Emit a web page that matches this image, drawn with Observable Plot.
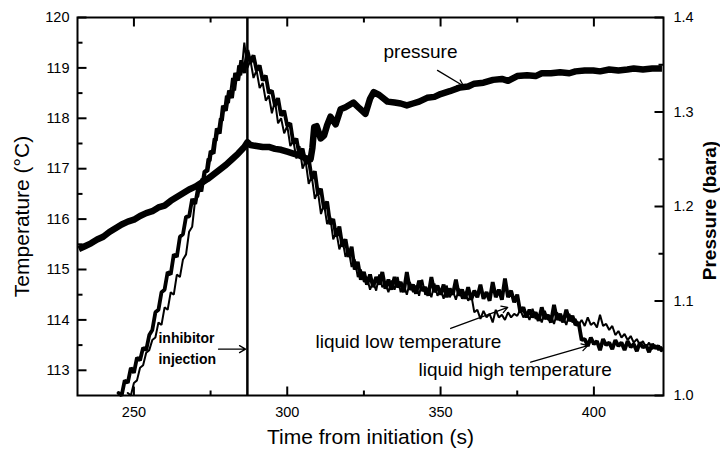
<!DOCTYPE html>
<html>
<head>
<meta charset="utf-8">
<script src="https://cdn.jsdelivr.net/npm/d3@7"></script>
<script src="https://cdn.jsdelivr.net/npm/@observablehq/plot@0.6"></script>
<style>
  html, body { margin: 0; padding: 0; background: #fff; }
  #chart { width: 720px; height: 453px; }
</style>
</head>
<body>
<div id="chart"></div>
<script>
// ---------- data ----------
const timeDomain = [231.6, 422.7];
const tempDomain = [112.5, 120];
const pressDomain = [1.0, 1.4];

const xTickLabels = [250, 300, 350, 400];
const xMinorTicks = [275, 325, 375];
const tempTickLabels = [113, 114, 115, 116, 117, 118, 119, 120];
const tempMinorTicks = [113.5, 114.5, 115.5, 116.5, 117.5, 118.5, 119.5];
const pressTickLabels = [1.0, 1.1, 1.2, 1.3, 1.4];
const pressMinorTicks = [1.05, 1.15, 1.25, 1.35];

const injectionTime = 287;

// temperature samples (s)
const tempTime = [245,246,247,248,249,250,251,252,253,254,255,256,257,258,259,260,261,262,263,264,265,266,267,268,269,270,271,272,273,274,275,276,277,278,279,280,281,282,283,284,285,286,287,288,289,290,291,292,293,294,295,296,297,298,299,300,301,302,303,304,305,306,307,308,309,310,311,312,313,314,315,316,317,318,319,320,321,322,323,324,325,326,327,328,329,330,331,332,333,334,335,336,337,338,339,340,341,342,343,344,345,346,347,348,349,350,351,352,353,354,355,356,357,358,359,360,361,362,363,364,365,366,367,368,369,370,371,372,373,374,375,376,377,378,379,380,381,382,383,384,385,386,387,388,389,390,391,392,393,394,395,396,397,398,399,400,401,402,403,404,405,406,407,408,409,410,411,412,413,414,415,416,417,418,419,420,421,422];

// liquid high temperature (°C)
const highTemp = [112.55,112.50,112.80,112.75,113.05,112.95,113.25,113.20,113.45,113.40,113.70,113.80,114.15,114.20,114.55,114.60,114.95,114.90,115.30,115.25,115.65,115.70,116.05,116.05,116.40,116.30,116.65,116.55,116.95,116.95,117.35,117.30,117.80,117.70,118.25,118.15,118.55,118.40,118.90,118.75,119.15,118.90,119.35,119.10,119.25,118.95,119.05,118.75,118.85,118.50,118.55,118.25,118.40,118.05,118.15,117.85,117.90,117.50,117.60,117.25,117.40,117.10,117.20,116.80,116.95,116.50,116.60,116.20,116.35,115.90,116.00,115.65,115.85,115.45,115.60,115.25,115.45,115.00,115.15,114.80,114.95,114.70,114.90,114.65,114.85,114.70,114.95,114.62,114.80,114.60,114.85,114.65,114.75,114.55,114.95,114.60,114.70,114.52,114.78,114.58,114.65,114.48,114.85,114.55,114.68,114.50,114.70,114.45,114.62,114.50,114.80,114.48,114.60,114.42,114.65,114.40,114.58,114.45,114.70,114.42,114.55,114.38,114.75,114.45,114.60,114.40,114.82,114.45,114.58,114.35,114.50,114.15,114.25,114.05,114.20,114.05,114.15,113.98,114.25,114.02,114.10,113.95,114.30,114.00,114.12,113.95,114.20,113.98,114.08,113.90,113.95,113.60,113.62,113.48,113.65,113.52,113.58,113.40,113.62,113.50,113.55,113.42,113.60,113.48,113.55,113.40,113.58,113.46,113.52,113.38,113.55,113.45,113.50,113.36,113.52,113.44,113.48,113.40];

// liquid low temperature (°C)
const lowTemp = [null,null,null,112.55,112.50,112.75,112.80,113.05,113.10,113.35,113.40,113.60,113.65,113.95,113.90,114.25,114.20,114.55,114.50,114.90,114.85,115.20,115.30,115.75,115.85,116.40,116.45,116.80,116.75,117.20,117.15,117.60,117.55,118.00,117.95,118.45,118.30,118.80,118.55,119.05,118.85,119.50,119.00,119.15,118.80,118.95,118.60,118.70,118.35,118.45,118.10,118.35,117.90,118.00,117.70,117.85,117.45,117.55,117.20,117.45,117.00,117.15,116.70,116.85,116.40,116.55,116.10,116.30,115.90,116.05,115.60,115.75,115.40,115.60,115.25,115.40,115.05,115.20,114.85,115.00,114.75,114.85,114.60,114.75,114.58,114.90,114.65,114.72,114.55,114.78,114.60,114.85,114.55,114.70,114.50,114.75,114.55,114.68,114.48,114.80,114.50,114.62,114.45,114.72,114.48,114.60,114.42,114.68,114.45,114.58,114.40,114.62,114.42,114.55,114.38,114.50,114.15,114.20,114.02,114.18,114.05,114.12,113.95,114.20,114.05,114.10,114.00,114.15,114.05,114.12,114.08,114.20,114.05,114.15,114.00,114.22,114.02,114.10,113.95,114.18,114.00,114.08,113.92,114.15,113.98,114.05,113.90,114.12,113.95,114.02,113.90,114.00,113.88,114.05,113.90,113.95,113.85,114.10,113.88,113.92,113.80,113.88,113.70,113.78,113.65,113.72,113.60,113.68,113.55,113.62,113.50,113.58,113.45,113.55,113.42,113.50,113.40,113.46];

// pressure samples
const pressTime = [232,234,236,238,240,242,244,246,248,250,252,254,256,258,260,262,264,266,268,270,272,274,276,278,280,282,284,286,287,288,290,292,294,296,298,300,302,304,306,307.6,308.2,308.8,309.6,310.9,312,313,314.1,315.8,317.4,319,321.6,323.5,325.5,327,328.2,330,332.7,335,337,339,341,343,345.6,348,350,353,356.4,359,361,364,367.1,370,372,375,378.2,381,383,386,389,392,394,397,399.8,402,405,408,410.9,413,416,419,422.2];
const pressValue = [1.155,1.158,1.161,1.165,1.168,1.173,1.177,1.181,1.184,1.186,1.190,1.193,1.195,1.199,1.201,1.206,1.210,1.214,1.218,1.221,1.225,1.229,1.234,1.239,1.244,1.250,1.256,1.263,1.268,1.265,1.264,1.263,1.263,1.261,1.260,1.258,1.256,1.254,1.251,1.250,1.262,1.284,1.285,1.272,1.275,1.286,1.295,1.287,1.303,1.305,1.310,1.304,1.298,1.314,1.321,1.318,1.311,1.310,1.309,1.307,1.309,1.311,1.315,1.316,1.319,1.322,1.326,1.327,1.330,1.331,1.334,1.335,1.333,1.338,1.339,1.338,1.341,1.341,1.342,1.341,1.343,1.344,1.344,1.343,1.345,1.344,1.345,1.346,1.345,1.346,1.346];

// annotations (data coordinates: time, temperature)
const labelTexts = ["pressure", "liquid low temperature", "liquid high temperature"];
const labelTime = [331.4, 309.2, 342.8];
const labelTemp = [119.31, 113.57, 113.015];
const arrowFromTime = [349.0, 353.3, 379.4];
const arrowFromTemp = [118.95, 113.83, 113.16];
const arrowToTime = [357.5, 371.9, 398.0];
const arrowToTemp = [118.64, 114.25, 113.49];
const injectionLines = ["inhibitor", "injection"];
const injectionLabelTime = [258.0, 258.0];
const injectionLabelTemp = [113.64, 113.22];
const injectionArrow = {fromTime: 277.6, toTime: 286.4, temp: 113.42};

// ---------- chart ----------
const W = 720, H = 453, mL = 77, mR = 57, mT = 17, mB = 58;
const frameW = W - mL - mR, frameH = H - mT - mB;
const majorLen = 9, minorLen = 5;
// convert tick lengths (px) into data units of each scale
const tPerPx = (timeDomain[1] - timeDomain[0]) / frameW;
const vPerPx = (tempDomain[1] - tempDomain[0]) / frameH;

const toT = p => tempDomain[0] + (p - pressDomain[0]) * (tempDomain[1] - tempDomain[0]) / (pressDomain[1] - pressDomain[0]);
const toP = t => pressDomain[0] + (t - tempDomain[0]) * (pressDomain[1] - pressDomain[0]) / (tempDomain[1] - tempDomain[0]);

const font = "'Liberation Sans', Arial, Helvetica, sans-serif";

// tick segments: value along the axis, start & end across it
const tickRowsX = [];
for (const [vals, len] of [[xTickLabels, majorLen], [xMinorTicks, minorLen]]) {
  for (const v of vals) {
    tickRowsX.push({x: v, a: tempDomain[0], b: tempDomain[0] + len * vPerPx});
    tickRowsX.push({x: v, a: tempDomain[1], b: tempDomain[1] - len * vPerPx});
  }
}
const tickRowsY = [];
for (const [vals, len] of [[tempTickLabels, majorLen], [tempMinorTicks, minorLen]]) {
  for (const v of vals) tickRowsY.push({y: v, a: timeDomain[0], b: timeDomain[0] + len * tPerPx});
}
for (const [vals, len] of [[pressTickLabels, majorLen], [pressMinorTicks, minorLen]]) {
  for (const v of vals) tickRowsY.push({y: toT(v), a: timeDomain[1], b: timeDomain[1] - len * tPerPx});
}

const chart = Plot.plot({
  width: W,
  height: H,
  marginLeft: mL,
  marginRight: mR,
  marginTop: mT,
  marginBottom: mB,
  style: {fontFamily: font, fontSize: "14.5px", background: "#fff", color: "#000"},
  x: {domain: timeDomain},
  y: {domain: tempDomain},
  marks: [
    Plot.frame({stroke: "#000", strokeWidth: 2}),
    // tick labels
    Plot.axisX({anchor: "bottom", ticks: xTickLabels, tickSize: 0, tickPadding: 11, label: null, tickFormat: d => String(d)}),
    Plot.axisY({anchor: "left", ticks: tempTickLabels, tickSize: 0, tickPadding: 8, label: null, tickFormat: d => String(d)}),
    Plot.axisY({anchor: "right", ticks: pressTickLabels.map(toT), tickSize: 0, tickPadding: 10, label: null,
      tickFormat: d => toP(d).toFixed(1)}),
    // axis titles
    Plot.text(["Time from initiation (s)"], {frameAnchor: "bottom", lineAnchor: "middle", textAnchor: "middle", dy: 42, fontSize: 21}),
    Plot.text(["Temperature (°C)"], {frameAnchor: "left", lineAnchor: "middle", textAnchor: "middle", dx: -55, dy: 10, rotate: -90, fontSize: 21}),
    Plot.text(["Pressure (bara)"], {frameAnchor: "right", lineAnchor: "middle", textAnchor: "middle", dx: 46, dy: 4, rotate: -90, fontSize: 19, fontWeight: "bold"}),
    // data
    Plot.line(tempTime, {x: tempTime, y: lowTemp, stroke: "#000", strokeWidth: 2, strokeLinejoin: "miter"}),
    Plot.line(tempTime, {x: tempTime, y: highTemp, stroke: "#000", strokeWidth: 3.8, strokeLinejoin: "miter"}),
    Plot.line(pressTime, {x: pressTime, y: pressValue.map(toT), stroke: "#000", strokeWidth: 6.5, strokeLinejoin: "round", strokeLinecap: "butt"}),
    Plot.ruleX([injectionTime], {stroke: "#000", strokeWidth: 2.5}),
    // annotations
    Plot.text(labelTexts, {x: labelTime, y: labelTemp, textAnchor: "start", fontSize: 19}),
    Plot.arrow(labelTexts, {x1: arrowFromTime, y1: arrowFromTemp, x2: arrowToTime, y2: arrowToTemp, stroke: "#000", strokeWidth: 1.3, headLength: 8}),
    Plot.text(injectionLines, {x: injectionLabelTime, y: injectionLabelTemp, textAnchor: "start", fontSize: 14, fontWeight: "bold"}),
    Plot.arrow([injectionArrow], {x1: "fromTime", x2: "toTime", y1: "temp", y2: "temp", stroke: "#000", strokeWidth: 1.3, headLength: 8}),
    // inward tick marks (drawn last)
    Plot.link(tickRowsX, {x1: "x", x2: "x", y1: "a", y2: "b", stroke: "#000", strokeWidth: 2}),
    Plot.link(tickRowsY, {y1: "y", y2: "y", x1: "a", x2: "b", stroke: "#000", strokeWidth: 2})
  ]
});

document.getElementById("chart").appendChild(chart);
</script>
</body>
</html>
